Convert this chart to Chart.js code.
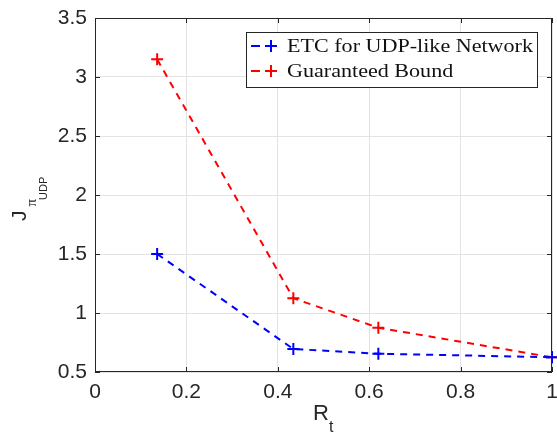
<!DOCTYPE html>
<html lang="en">
<head>
<meta charset="UTF-8">
<title>J vs R_t</title>
<script src="https://cdn.jsdelivr.net/npm/chart.js@4/dist/chart.umd.min.js"></script>
<style>
  html, body { margin: 0; padding: 0; background: #fff; }
  #wrap { width: 557px; height: 433px; }
</style>
</head>
<body>
<div id="wrap"><canvas id="c" width="557" height="433"></canvas></div>
<script>
// values
const rt = [0.136, 0.434, 0.62, 1.0];
const etcUdp = [1.5, 0.695, 0.655, 0.625];
const guaranteed = [3.15, 1.125, 0.875, 0.625];
const seriesNames = ['ETC for UDP-like Network', 'Guaranteed Bound'];
const xTicks = [0, 0.2, 0.4, 0.6, 0.8, 1];
const yTicks = [0.5, 1, 1.5, 2, 2.5, 3, 3.5];

const AX = '#262626';
const SANS = 'Liberation Sans, Arial, sans-serif';
const SERIF = 'Liberation Serif, Times New Roman, serif';
const tickFont = { family: SANS, size: 21 };

const pts = (ys) => rt.map((x, i) => ({ x: x, y: ys[i] }));
const noPad = () => ({ left: 0, top: 0, right: 0, bottom: 0 });

// box, inward ticks, axis titles with subscripts, legend
const matlabBits = {
  id: 'matlabBits',
  afterDraw(chart) {
    const { ctx, chartArea: a, scales } = chart;
    const xs = scales.x, ys = scales.y;
    ctx.save();
    ctx.strokeStyle = AX;
    ctx.lineWidth = 1;
    ctx.strokeRect(a.left + 0.5, a.top + 0.5, a.right - a.left - 1, a.bottom - a.top - 1);
    ctx.beginPath();
    const tl = 5;
    xTicks.forEach(v => {
      const px = Math.round(xs.getPixelForValue(v)) + 0.5;
      ctx.moveTo(px, a.bottom); ctx.lineTo(px, a.bottom - tl);
      ctx.moveTo(px, a.top); ctx.lineTo(px, a.top + tl);
    });
    yTicks.forEach(v => {
      const py = Math.round(ys.getPixelForValue(v)) + 0.5;
      ctx.moveTo(a.left, py); ctx.lineTo(a.left + tl, py);
      ctx.moveTo(a.right, py); ctx.lineTo(a.right - tl, py);
    });
    ctx.stroke();

    // x title R_t
    ctx.fillStyle = AX;
    ctx.textBaseline = 'alphabetic';
    ctx.textAlign = 'left';
    ctx.font = '22px ' + SANS;
    ctx.fillText('R', 313, 420);
    const rw = ctx.measureText('R').width;
    ctx.font = '16px ' + SANS;
    ctx.fillText('t', 313 + rw, 432);

    // y title J_{pi_UDP}, rotated
    ctx.save();
    ctx.translate(26, 221);
    ctx.rotate(-Math.PI / 2);
    ctx.font = '21px ' + SANS;
    ctx.fillText('J', 0, 0);
    const jw = ctx.measureText('J').width;
    ctx.font = '15px ' + SERIF;
    ctx.fillText('\u03C0', jw + 4, 10);
    const pw = ctx.measureText('\u03C0').width;
    ctx.font = '11px ' + SANS;
    ctx.fillText('UDP', jw + pw + 3, 21);
    ctx.restore();

    // legend
    const lx = 246, ly = 32, lw = 291, lh = 55;
    ctx.fillStyle = '#fff';
    ctx.fillRect(lx, ly, lw, lh);
    ctx.strokeStyle = AX;
    ctx.lineWidth = 1;
    ctx.strokeRect(lx + 0.5, ly + 0.5, lw, lh);
    ctx.font = '19px ' + SERIF;
    const stretch = 246 / ctx.measureText(seriesNames[0]).width;
    chart.data.datasets.forEach((ds, i) => {
      const y = ly + 14 + i * 25;
      ctx.strokeStyle = ds.borderColor;
      ctx.lineWidth = 2;
      ctx.beginPath();
      ctx.moveTo(251, y); ctx.lineTo(260, y);
      ctx.moveTo(265, y); ctx.lineTo(277, y);
      ctx.moveTo(271, y - 6); ctx.lineTo(271, y + 6);
      ctx.stroke();
      ctx.fillStyle = '#111';
      ctx.textBaseline = 'middle';
      ctx.save();
      ctx.translate(287, y + 1);
      ctx.scale(stretch, 1);
      ctx.fillText(seriesNames[i], 0, 0);
      ctx.restore();
    });
    ctx.restore();
  }
};

const ds = (label, data, color) => ({
  label: label,
  data: data,
  borderColor: color,
  backgroundColor: color,
  borderWidth: 2,
  borderDash: [7, 6],
  pointStyle: 'cross',
  pointRadius: 6,
  pointBorderWidth: 2,
  pointHoverRadius: 6,
  fill: false,
  clip: false,
  tension: 0
});

new Chart(document.getElementById('c'), {
  type: 'line',
  data: {
    datasets: [
      ds(seriesNames[0], pts(etcUdp), '#0000ff'),
      ds(seriesNames[1], pts(guaranteed), '#ff0000')
    ]
  },
  options: {
    responsive: false,
    animation: false,
    layout: { autoPadding: false, padding: { top: 18, right: 5, left: 0, bottom: 0 } },
    plugins: { legend: { display: false }, tooltip: { enabled: false } },
    scales: {
      x: {
        type: 'linear', min: 0, max: 1,
        afterBuildTicks: s => { s.ticks = xTicks.map(v => ({ value: v })); },
        afterFit: s => { s.height = 61; s.getPadding = noPad; },
        grid: { color: '#e3e3e3', drawTicks: false },
        border: { display: false },
        ticks: { color: AX, font: tickFont, padding: 8, maxRotation: 0,
                 callback: v => String(v) }
      },
      y: {
        type: 'linear', min: 0.5, max: 3.5,
        afterBuildTicks: s => { s.ticks = yTicks.map(v => ({ value: v })); },
        afterFit: s => { s.width = 95; s.getPadding = noPad; },
        grid: { color: '#e3e3e3', drawTicks: false },
        border: { display: false },
        ticks: { color: AX, font: tickFont, padding: 8,
                 callback: v => String(v) }
      }
    }
  },
  plugins: [matlabBits]
});
</script>
</body>
</html>
